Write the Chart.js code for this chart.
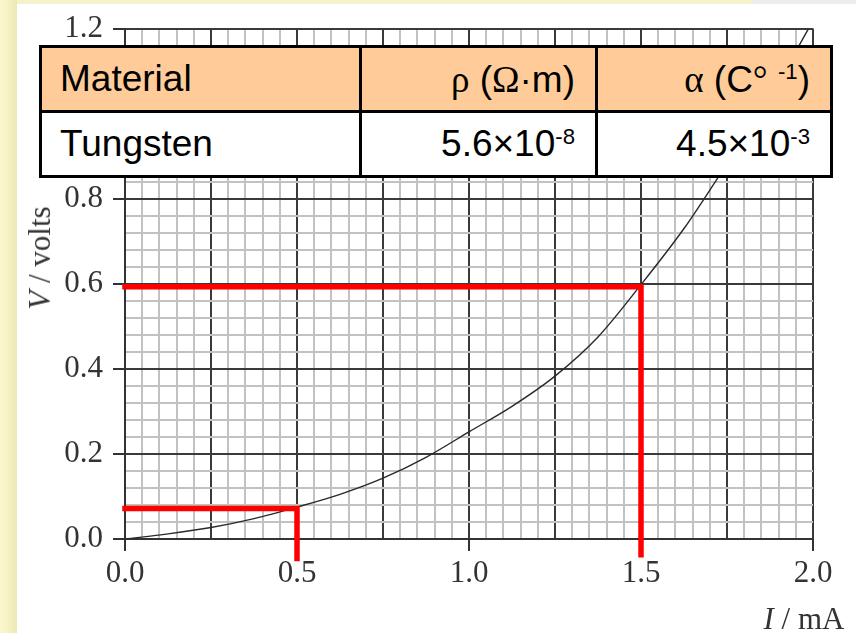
<!DOCTYPE html>
<html>
<head>
<meta charset="utf-8">
<script src="https://cdn.jsdelivr.net/npm/chart.js@4.4.1/dist/chart.umd.min.js"></script>
<style>
    html, body { margin: 0; padding: 0; background: #fff; }
    #wrap { position: relative; width: 856px; height: 633px; overflow: hidden; }
    #leftStrip { position: absolute; left: 0; top: 0; width: 17px; height: 633px;
        background: linear-gradient(to right, #faf8cd 0%, #f5f3c3 45%, #ece8b6 100%); }
    #topStrip { position: absolute; left: 17px; top: 0; width: 735px; height: 4px; background: #f4f2cb; }
    #topStripGrey { position: absolute; left: 752px; top: 0; width: 104px; height: 4px; background: #ececec; }
    canvas { position: absolute; left: 0; top: 0; }
    .axisTitle { position: absolute; font-family: "Liberation Serif", serif; font-size: 31px; color: #333; white-space: nowrap; }
    #yTitle { left: 40px; top: 258px; transform: translate(-50%, -50%) rotate(-90deg); }
    #xTitle { left: 804px; top: 619px; transform: translate(-50%, -50%); }
    table { position: absolute; left: 39px; top: 45px; width: 794px; height: 133px;
        border-collapse: separate; border-spacing: 0; border: 3px solid #000; table-layout: fixed;
        font-family: "Liberation Sans", Arial, sans-serif; font-size: 37px; color: #000; background: #fff; }
    td { padding: 0 20px 0 18px; white-space: nowrap; }
    td.r { text-align: right; border-left: 3px solid #000; }
    tr.head td { background: #ffcc99; border-bottom: 3px solid #000; height: 62px; }
    tr.body td { height: 62px; }
    .gr { font-family: "Liberation Serif", serif; }
    sup { font-size: 0.6em; position: relative; top: -0.55em; vertical-align: baseline; line-height: 0; }
</style>
</head>
<body>
<div id="wrap">
    <div id="leftStrip"></div>
    <div id="topStrip"></div>
    <div id="topStripGrey"></div>
    <canvas id="graph" width="856" height="633"></canvas>
    <div class="axisTitle" id="yTitle"><i>V</i> / volts</div>
    <div class="axisTitle" id="xTitle"><i>I</i> / mA</div>
    <table>
        <colgroup><col style="width:317px"><col style="width:236px"><col style="width:235px"></colgroup>
        <tr class="head"><td>Material</td><td class="r"><span class="gr">ρ</span> (<span class="gr">Ω</span>·m)</td><td class="r"><span class="gr">α</span> (C<span class="gr">°</span> <sup>-1</sup>)</td></tr>
        <tr class="body"><td>Tungsten</td><td class="r">5.6×10<sup>-8</sup></td><td class="r">4.5×10<sup>-3</sup></td></tr>
    </table>
</div>

<script>
// curve (current in mA, voltage in volts)
const currentMA = [0, 0.125, 0.25, 0.375, 0.5, 0.625, 0.75, 0.875, 1.0, 1.125, 1.25, 1.375, 1.5, 1.625, 1.72, 1.85, 1.954, 1.987];
const voltageV = [0, 0.012, 0.027, 0.048, 0.075, 0.105, 0.143, 0.192, 0.252, 0.312, 0.383, 0.475, 0.598, 0.73, 0.845, 1.008, 1.152, 1.2];

// red read-off lines
const guideLowI = [0, 0.5, 0.5];
const guideLowV = [0.072, 0.072, -0.046];
const guideHighI = [0, 1.5, 1.5];
const guideHighV = [0.593, 0.593, -0.037];

// tick labels
const xTickLabels = ['0.0', '0.5', '1.0', '1.5', '2.0'];
const yTickLabels = ['0.0', '0.2', '0.4', '0.6', '0.8', '1.0', '1.2'];

function toPoints(xs, ys) {
    return xs.map((x, i) => ({ x: x, y: ys[i] }));
}

function isMultiple(v, step) {
    return Math.abs(v / step - Math.round(v / step)) < 1e-6;
}

function findLabel(list, v) {
    const hit = list.find(l => Math.abs(parseFloat(l) - v) < 1e-6);
    return hit === undefined ? '' : hit;
}

const tickFont = { family: 'Liberation Serif', size: 31 };

const ctx = document.getElementById('graph').getContext('2d');
new Chart(ctx, {
    type: 'scatter',
    data: {
        datasets: [
            {
                data: toPoints(guideLowI, guideLowV),
                showLine: true, borderColor: '#ff0000', borderWidth: 5.5,
                borderCapStyle: 'square', borderJoinStyle: 'miter',
                pointRadius: 0, clip: false, order: 0
            },
            {
                data: toPoints(guideHighI, guideHighV),
                showLine: true, borderColor: '#ff0000', borderWidth: 5.5,
                borderCapStyle: 'square', borderJoinStyle: 'miter',
                pointRadius: 0, clip: false, order: 0
            },
            {
                data: toPoints(currentMA, voltageV),
                showLine: true, borderColor: '#2a2a2a', borderWidth: 1.4,
                cubicInterpolationMode: 'monotone',
                pointRadius: 0, order: 1
            }
        ]
    },
    options: {
        responsive: false,
        animation: false,
        events: [],
        layout: { padding: { top: 24, right: 43, left: 0, bottom: 0 } },
        plugins: { legend: { display: false }, tooltip: { enabled: false } },
        scales: {
            x: {
                type: 'linear', min: 0, max: 2,
                afterFit: s => { s.height = 94; },
                border: { color: '#333', width: 2 },
                grid: {
                    color: c => isMultiple(c.tick.value, 0.25) ? '#3a3a3a' : '#c2c2c2',
                    lineWidth: 2,
                    tickLength: 12,
                    tickColor: c => c.tick && c.tick.label !== '' ? '#333' : 'rgba(0,0,0,0)',
                    tickWidth: 2
                },
                ticks: {
                    stepSize: 0.05, autoSkip: false, maxRotation: 0, minRotation: 0,
                    padding: 4, color: '#333', font: tickFont,
                    callback: v => findLabel(xTickLabels, v)
                }
            },
            y: {
                type: 'linear', min: 0, max: 1.2,
                afterFit: s => { s.width = 125; },
                border: { color: '#333', width: 2 },
                grid: {
                    color: c => isMultiple(c.tick.value, 0.2) ? '#3a3a3a' : '#c2c2c2',
                    lineWidth: 2,
                    tickLength: 12,
                    tickColor: c => c.tick && c.tick.label !== '' ? '#333' : 'rgba(0,0,0,0)',
                    tickWidth: 2
                },
                ticks: {
                    stepSize: 0.04, autoSkip: false,
                    padding: 10, color: '#333', font: tickFont,
                    callback: v => findLabel(yTickLabels, v)
                }
            }
        }
    }
});
</script>
</body>
</html>
